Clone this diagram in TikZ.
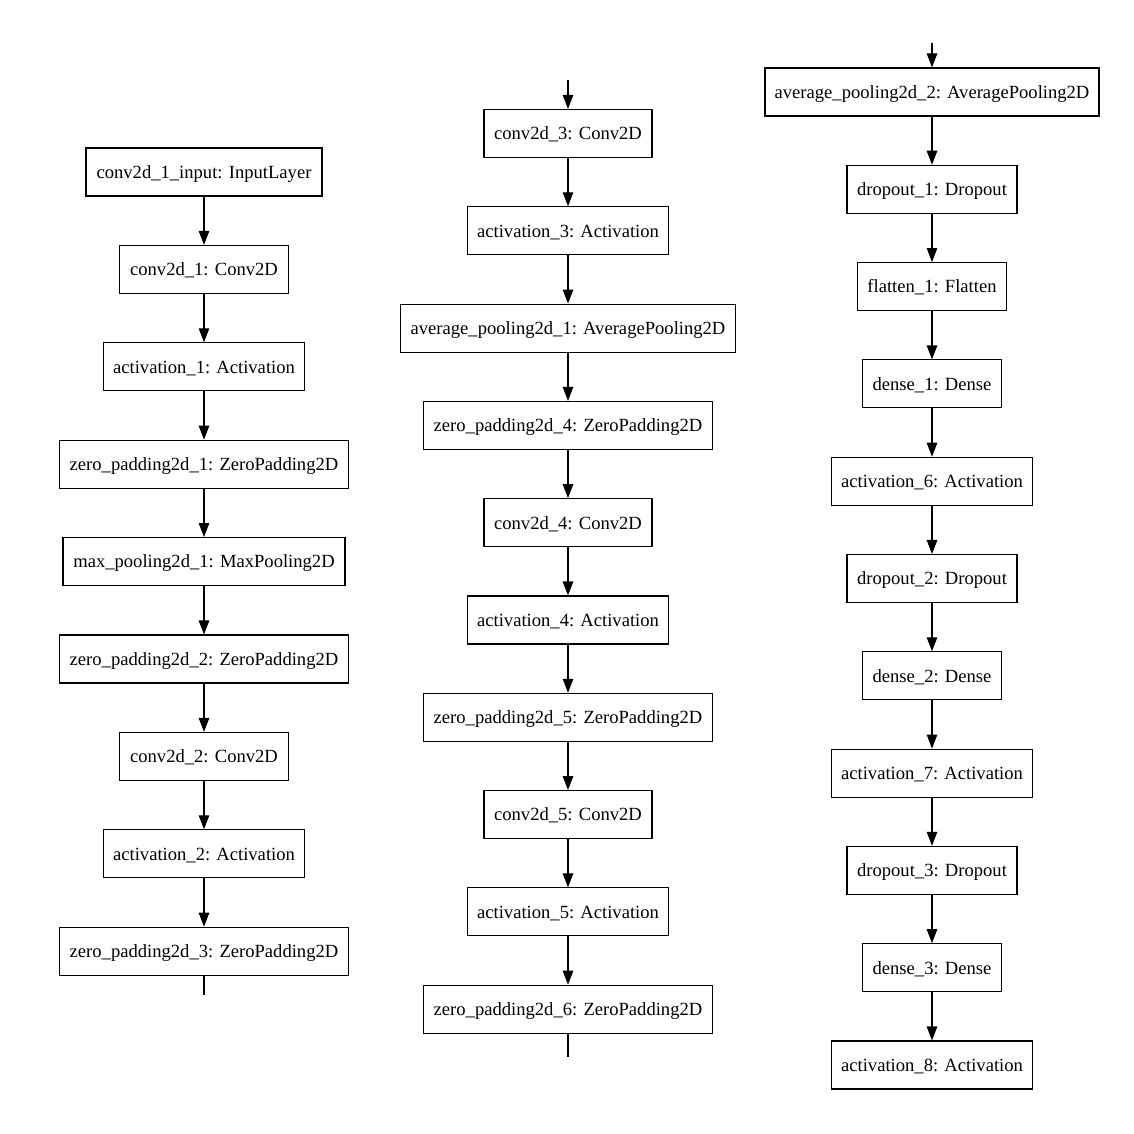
\documentclass[tikz,border=0pt]{standalone}
\usepackage{fontspec}
\setmainfont{Liberation Serif}
\usetikzlibrary{arrows.meta}
\begin{document}
\begin{tikzpicture}[x=1pt,y=-1pt,
  box/.style={draw, line width=1.1pt, minimum height=48pt, inner sep=0pt,
    text height=16.6pt, text depth=4pt,
    font=\fontsize{18.6}{22}\selectfont},
  conn/.style={line width=1.1pt, -{Triangle[length=14pt,width=10.5pt]}},
  tail/.style={line width=1.1pt}]
\useasboundingbox (0,0) rectangle (1134,1134);
% column 1
\def\cx{204}
\node[box, minimum width=236pt] (a1) at (\cx,172) {conv2d\_1\_input: InputLayer};
\node[box, minimum width=169pt] (a2) at (\cx,269.4) {conv2d\_1: Conv2D};
\node[box, minimum width=201pt] (a3) at (\cx,366.8) {activation\_1: Activation};
\node[box, minimum width=289pt] (a4) at (\cx,464.2) {zero\_padding2d\_1: ZeroPadding2D};
\node[box, minimum width=282pt] (a5) at (\cx,561.6) {max\_pooling2d\_1: MaxPooling2D};
\node[box, minimum width=289pt] (a6) at (\cx,659) {zero\_padding2d\_2: ZeroPadding2D};
\node[box, minimum width=169pt] (a7) at (\cx,756.4) {conv2d\_2: Conv2D};
\node[box, minimum width=201pt] (a8) at (\cx,853.8) {activation\_2: Activation};
\node[box, minimum width=289pt] (a9) at (\cx,951.2) {zero\_padding2d\_3: ZeroPadding2D};
\coordinate (aend) at (\cx,995);
\foreach \i/\j in {1/2,2/3,3/4,4/5,5/6,6/7,7/8,8/9}
  \draw[conn] (a\i) -- (a\j);
\draw[tail] (a9) -- (aend);
% column 2
\def\cx{568}
\coordinate (bstart) at (\cx,80);
\node[box, minimum width=168pt] (b1) at (\cx,133.5) {conv2d\_3: Conv2D};
\node[box, minimum width=201pt] (b2) at (\cx,230.8) {activation\_3: Activation};
\node[box, minimum width=335pt] (b3) at (\cx,328.1) {average\_pooling2d\_1: AveragePooling2D};
\node[box, minimum width=289pt] (b4) at (\cx,425.4) {zero\_padding2d\_4: ZeroPadding2D};
\node[box, minimum width=168pt] (b5) at (\cx,522.7) {conv2d\_4: Conv2D};
\node[box, minimum width=201pt] (b6) at (\cx,620) {activation\_4: Activation};
\node[box, minimum width=289pt] (b7) at (\cx,717.3) {zero\_padding2d\_5: ZeroPadding2D};
\node[box, minimum width=168pt] (b8) at (\cx,814.6) {conv2d\_5: Conv2D};
\node[box, minimum width=201pt] (b9) at (\cx,911.9) {activation\_5: Activation};
\node[box, minimum width=289pt] (b10) at (\cx,1009.2) {zero\_padding2d\_6: ZeroPadding2D};
\coordinate (bend) at (\cx,1057);
\draw[conn] (bstart) -- (b1);
\foreach \i/\j in {1/2,2/3,3/4,4/5,5/6,6/7,7/8,8/9,9/10}
  \draw[conn] (b\i) -- (b\j);
\draw[tail] (b10) -- (bend);
% column 3
\def\cx{932}
\coordinate (cstart) at (\cx,43);
\node[box, minimum width=334pt] (c1) at (\cx,92) {average\_pooling2d\_2: AveragePooling2D};
\node[box, minimum width=170pt] (c2) at (\cx,189.3) {dropout\_1: Dropout};
\node[box, minimum width=149pt] (c3) at (\cx,286.6) {flatten\_1: Flatten};
\node[box, minimum width=139pt] (c4) at (\cx,383.9) {dense\_1: Dense};
\node[box, minimum width=201pt] (c5) at (\cx,481.2) {activation\_6: Activation};
\node[box, minimum width=170pt] (c6) at (\cx,578.5) {dropout\_2: Dropout};
\node[box, minimum width=139pt] (c7) at (\cx,675.8) {dense\_2: Dense};
\node[box, minimum width=201pt] (c8) at (\cx,773.1) {activation\_7: Activation};
\node[box, minimum width=170pt] (c9) at (\cx,870.4) {dropout\_3: Dropout};
\node[box, minimum width=139pt] (c10) at (\cx,967.7) {dense\_3: Dense};
\node[box, minimum width=201pt] (c11) at (\cx,1065) {activation\_8: Activation};
\draw[conn] (cstart) -- (c1);
\foreach \i/\j in {1/2,2/3,3/4,4/5,5/6,6/7,7/8,8/9,9/10,10/11}
  \draw[conn] (c\i) -- (c\j);
\end{tikzpicture}
\end{document}
